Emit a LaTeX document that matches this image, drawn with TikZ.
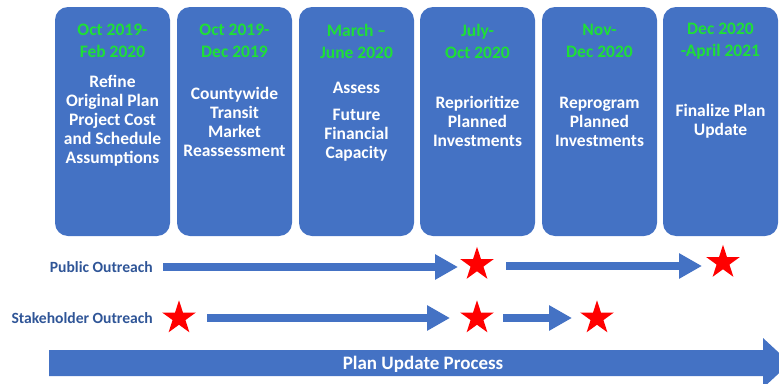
\documentclass[tikz,border=0pt]{standalone}
\usepackage{fontspec}
\setmainfont{Carlito}
\usetikzlibrary{shapes.geometric,arrows.meta}
\definecolor{boxblue}{HTML}{4472C4}
\definecolor{dategreen}{HTML}{1EE036}
\definecolor{labblue}{HTML}{2F5597}
\begin{document}
\begin{tikzpicture}[x=1pt,y=-1pt,
  tbox/.style={rectangle,rounded corners=13pt,fill=boxblue,minimum width=115pt,minimum height=229pt,inner sep=0pt},
  datetxt/.style={text=dategreen,font=\fontsize{17.5}{22}\selectfont\bfseries,align=center,inner sep=0pt},
  bodytxt/.style={text=white,font=\fontsize{17.5}{19}\selectfont\bfseries,align=center,inner sep=0pt},
  rowlab/.style={text=labblue,font=\fontsize{15.6}{18}\selectfont\bfseries,anchor=east,inner sep=0pt},
  redstar/.style={star,star points=5,star point ratio=2.618,minimum size=35.4pt,inner sep=0pt,fill=red,draw=none},
  flowarrow/.style={draw=boxblue,line width=7.5pt,-{Triangle[length=23pt,width=24pt]}},
]
\useasboundingbox (0,0) rectangle (779,383);
% boxes
\foreach \i/\cx in {1/112.5,2/234.5,3/356.5,4/477.5,5/599.5,6/720.5}{
  \node[tbox] (box\i) at (\cx,121.5) {};
}
\node[datetxt] (d1) at (box1.center |- 0,41) {Oct 2019-\\Feb 2020};
\node[datetxt] (d2) at (box2.center |- 0,41) {Oct 2019-\\Dec 2019};
\node[datetxt] (d3) at (box3.center |- 0,41) {March --\\June 2020};
\node[datetxt] (d4) at (box4.center |- 0,41) {July-\\Oct 2020};
\node[datetxt] (d5) at (box5.center |- 0,41) {Nov-\\Dec 2020};
\node[datetxt] (d6) at (box6.center |- 0,41) {Dec 2020\\-April 2021};
\node[bodytxt] (t1) at (box1.center |- 0,121) {Refine\\Original Plan\\Project Cost\\and Schedule\\Assumptions};
\node[bodytxt] (t2) at (box2.center |- 0,121.5) {Countywide\\Transit\\Market\\Reassessment};
\node[bodytxt] (t3) at (box3.center |- 0,121.5) {Assess\\[8pt]Future\\Financial\\Capacity};
\node[bodytxt] (t4) at (box4.center |- 0,121.5) {Reprioritize\\Planned\\Investments};
\node[bodytxt] (t5) at (box5.center |- 0,121.5) {Reprogram\\Planned\\Investments};
\node[bodytxt] (t6) at (box6.center |- 0,121.5) {Finalize Plan\\Update};
% row labels
\node[rowlab] (plab) at (153,267) {Public Outreach};
\node[rowlab] (slab) at (153,318) {Stakeholder Outreach};
% stars
\node[redstar] (ps1) at (477,264.5) {};
\node[redstar] (ps2) at (723,262.5) {};
\node[redstar] (ss1) at (179,318) {};
\node[redstar] (ss2) at (477,318) {};
\node[redstar] (ss3) at (597,318) {};
% arrows
\draw[flowarrow,shorten <=10pt,shorten >=19pt] (plab.east) -- (plab.east -| ps1.center);
\coordinate (pa2s) at (506,266);
\draw[flowarrow,shorten >=21pt] (pa2s) -- (pa2s -| ps2.center);
\draw[flowarrow,shorten <=28pt,shorten >=27pt] (ss1.center) -- (ss2.center);
\draw[flowarrow,shorten <=26pt,shorten >=25pt] (ss2.center) -- (ss3.center);
% big process arrow
\fill[boxblue] (49,350) -- (763,350) -- (763,338) -- (790,363) -- (763,388) -- (763,376) -- (49,376) -- cycle;
\node[text=white,font=\fontsize{19}{22}\selectfont\bfseries,inner sep=0pt] (plan) at (423,364) {Plan Update Process};
\end{tikzpicture}
\end{document}
